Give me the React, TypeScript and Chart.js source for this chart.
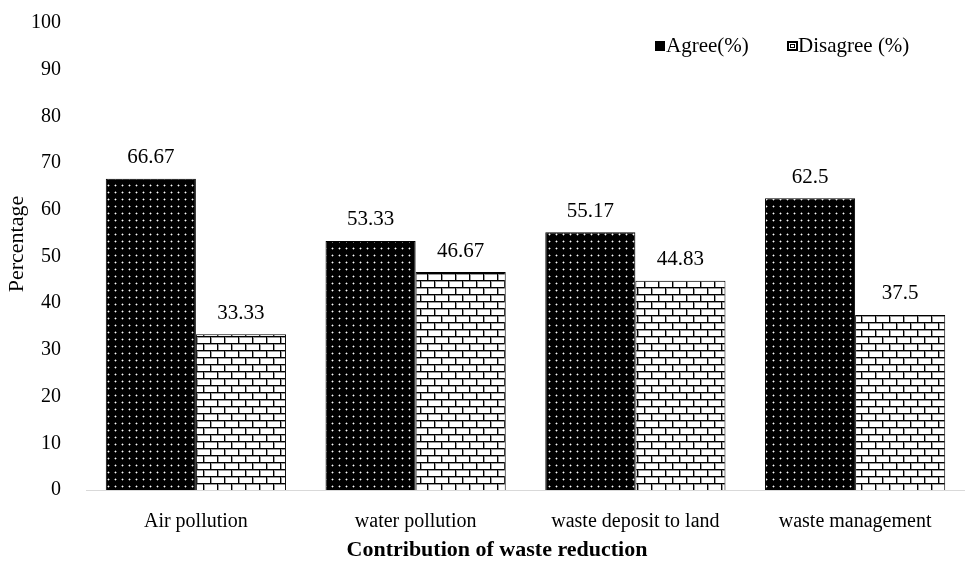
import React, { useEffect, useRef } from "react";
import { Chart, registerables } from "chart.js";

Chart.register(...registerables);

const categories = ["Air pollution", "water pollution", "waste deposit to land", "waste management"];
const agree = [66.67, 53.33, 55.17, 62.5];
const disagree = [33.33, 46.67, 44.83, 37.5];
const seriesNames = ["Agree(%)", "Disagree (%)"];
const valueLabels = [
  ["66.67", "53.33", "55.17", "62.5"],
  ["33.33", "46.67", "44.83", "37.5"],
];
const xTitle = "Contribution of waste reduction";
const yTitle = "Percentage";

const FONT = "'Liberation Serif', 'Times New Roman', serif";

function makeDots(): CanvasPattern | string {
  const c = document.createElement("canvas");
  c.width = 7;
  c.height = 7;
  const g = c.getContext("2d");
  if (!g) return "#000";
  g.fillStyle = "#000";
  g.fillRect(0, 0, 7, 7);
  g.fillStyle = "#666";
  g.fillRect(2, 3, 3, 1);
  g.fillRect(3, 2, 1, 3);
  g.fillStyle = "#fff";
  g.fillRect(3, 3, 1, 1);
  return g.createPattern(c, "repeat") || "#000";
}

function makeBricks(): CanvasPattern | string {
  const c = document.createElement("canvas");
  c.width = 14;
  c.height = 14;
  const g = c.getContext("2d");
  if (!g) return "#fff";
  g.fillStyle = "#fff";
  g.fillRect(0, 0, 14, 14);
  g.fillStyle = "#999";
  g.fillRect(0, 1, 14, 1);
  g.fillRect(0, 8, 14, 1);
  g.fillRect(1, 0, 1, 7);
  g.fillRect(8, 7, 1, 7);
  g.fillStyle = "#000";
  g.fillRect(0, 0, 14, 1);
  g.fillRect(0, 7, 14, 1);
  g.fillRect(0, 0, 1, 7);
  g.fillRect(7, 7, 1, 7);
  return g.createPattern(c, "repeat") || "#fff";
}

const overlayPlugin = {
  id: "overlay",
  afterDatasetsDraw(chart: any) {
    const ctx = chart.ctx;
    ctx.save();
    ctx.font = `21px ${FONT}`;
    ctx.fillStyle = "#000";
    ctx.textAlign = "center";
    ctx.textBaseline = "middle";
    chart.data.datasets.forEach((ds: any, di: number) => {
      const meta = chart.getDatasetMeta(di);
      meta.data.forEach((bar: any, i: number) => {
        ctx.fillText(valueLabels[di][i], bar.x, bar.y - 21);
      });
    });
    // legend
    ctx.textAlign = "left";
    const ly = 46;
    const ax = 655;
    const dx = 787;
    ctx.fillStyle = "#000";
    ctx.fillRect(ax, ly - 5, 10, 10);
    ctx.fillText(seriesNames[0], ax + 11, ly);
    ctx.fillStyle = "#000";
    ctx.fillRect(dx, ly - 5, 11, 10);
    ctx.fillStyle = "#fff";
    ctx.fillRect(dx + 2, ly - 3, 7, 6);
    ctx.strokeStyle = "#000";
    ctx.lineWidth = 1;
    ctx.strokeRect(dx + 3.5, ly - 1.5, 4, 3);
    ctx.fillStyle = "#000";
    ctx.fillText(seriesNames[1], dx + 11, ly);
    // axis titles
    ctx.textAlign = "center";
    ctx.font = `bold 22px ${FONT}`;
    ctx.fillText(xTitle, 497, 550);
    ctx.font = `22px ${FONT}`;
    ctx.translate(17, 244);
    ctx.rotate(-Math.PI / 2);
    ctx.fillText(yTitle, 0, 0);
    ctx.restore();
  },
};

export default function App() {
  const ref = useRef<HTMLCanvasElement | null>(null);
  useEffect(() => {
    if (!ref.current) return;
    const chart = new Chart(ref.current, {
      type: "bar",
      data: {
        labels: categories,
        datasets: [
          {
            label: seriesNames[0],
            data: agree,
            backgroundColor: makeDots() as any,
            borderColor: "#000",
            borderWidth: 1,
            barPercentage: 1,
            categoryPercentage: 0.82,
          },
          {
            label: seriesNames[1],
            data: disagree,
            backgroundColor: makeBricks() as any,
            borderColor: "#000",
            borderWidth: 1,
            barPercentage: 1,
            categoryPercentage: 0.82,
          },
        ],
      },
      options: {
        animation: false,
        responsive: false,
        maintainAspectRatio: false,
        layout: { padding: { top: 23, right: 0, left: 0, bottom: 0 } },
        plugins: { legend: { display: false }, tooltip: { enabled: false } },
        scales: {
          x: {
            grid: { display: false },
            border: { display: true, color: "#d9d9d9", width: 1 },
            ticks: { color: "#000", font: { family: FONT, size: 20 }, padding: 12 },
            title: { display: false },
            afterFit: (s: any) => {
              s.height = 73;
              s.paddingLeft = 0;
              s.paddingRight = 0;
            },
          },
          y: {
            min: 0,
            max: 100,
            grid: { display: false },
            border: { display: false },
            ticks: { stepSize: 10, color: "#000", font: { family: FONT, size: 20 }, padding: 17 },
            title: { display: false },
            afterFit: (s: any) => {
              s.width = 86;
              s.paddingTop = 0;
              s.paddingBottom = 0;
            },
          },
        },
      },
      plugins: [overlayPlugin],
    });
    return () => chart.destroy();
  }, []);
  return (
    <div style={{ position: "fixed", left: 0, top: 0, width: 965, height: 563, background: "#fff" }}>
      <canvas ref={ref} width={965} height={563} style={{ width: 965, height: 563 }} />
    </div>
  );
}
